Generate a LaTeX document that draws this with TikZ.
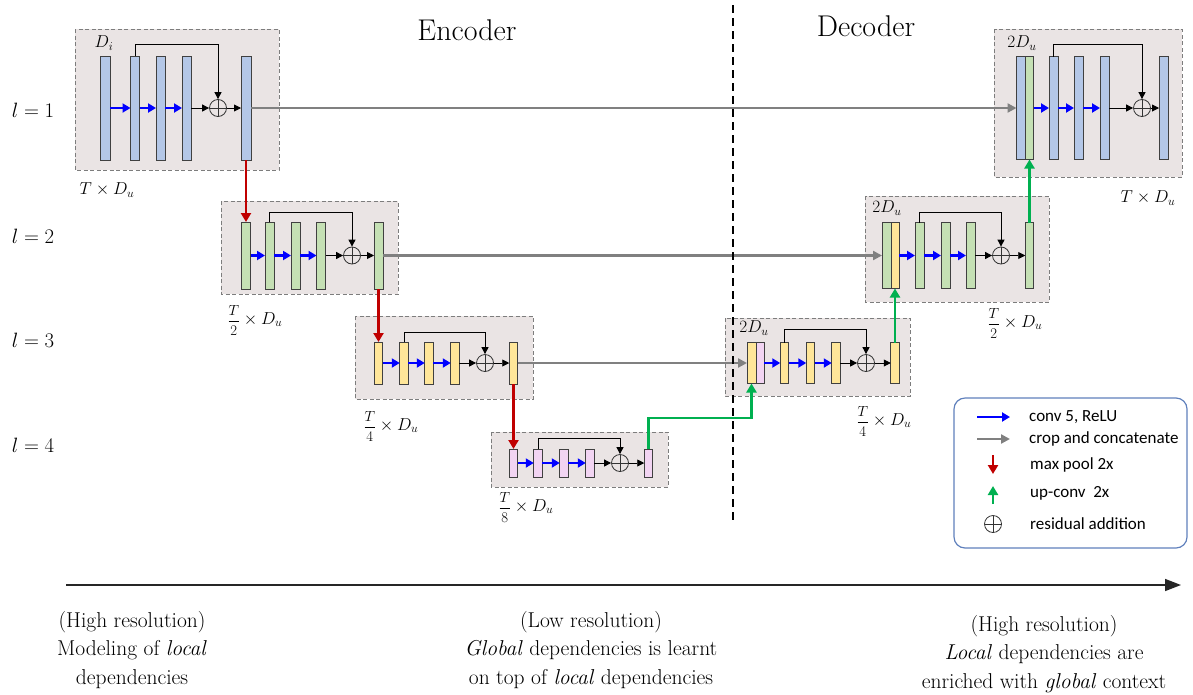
\documentclass[tikz,border=0pt]{standalone}
\usepackage{amsmath}
\usepackage{graphicx}
\usepackage{fontspec}
\newfontfamily\legfont{Carlito}
\usetikzlibrary{arrows.meta,calc}
\newcommand\frT[1]{\vcenter{\hbox{\scalebox{0.85}{$\displaystyle\frac{T}{#1}$}}}}
\definecolor{barblue}{RGB}{180,199,231}
\definecolor{bargreen}{RGB}{197,224,180}
\definecolor{baryellow}{RGB}{255,230,153}
\definecolor{barpink}{RGB}{242,212,242}
\definecolor{boxfill}{RGB}{234,228,228}
\definecolor{boxline}{RGB}{125,125,125}
\definecolor{convblue}{RGB}{0,0,255}
\definecolor{catgray}{RGB}{128,128,128}
\definecolor{poolred}{RGB}{192,0,0}
\definecolor{upgreen}{RGB}{0,176,80}
\definecolor{legline}{RGB}{95,128,188}
\tikzset{
  bar/.style={draw=black!75, line width=1pt, minimum width=9pt, inner sep=0pt, outer sep=0pt},
  blk/.style={draw=boxline, dash pattern=on 4pt off 2.5pt, fill=boxfill, line width=0.9pt},
  conv/.style={draw=convblue, line width=2.6pt, -{Triangle[length=8pt,width=9pt]}},
  res/.style={draw=black, line width=0.9pt, -{Triangle[length=7pt,width=7pt]}},
  cat/.style={draw=catgray, line width=2.4pt, -{Triangle[length=9pt,width=9pt]}},
  pool/.style={draw=poolred, line width=2.6pt, -{Triangle[length=9pt,width=10pt]}},
  upc/.style={draw=upgreen, line width=2.6pt, -{Triangle[length=9pt,width=10pt]}},
  oplusn/.style={circle, draw=black!80, line width=0.8pt, minimum size=17pt, inner sep=0pt,
    path picture={\draw[black!80, line width=0.8pt]
      (path picture bounding box.north) -- (path picture bounding box.south)
      (path picture bounding box.west) -- (path picture bounding box.east);}},
  mlbl/.style={inner sep=0pt, font=\fontsize{17.28}{20}\selectfont},
  lvl/.style={inner sep=0pt, font=\fontsize{20.74}{24}\selectfont},
  ttl/.style={inner sep=0pt, font=\fontsize{30}{36}\selectfont},
  btxt/.style={inner sep=0pt, align=center, anchor=north, font=\fontsize{21.5}{28.5}\selectfont},
  legtxt/.style={inner sep=0pt, anchor=west, font=\legfont\fontsize{17}{20}\selectfont},
  legbox/.style={draw=legline, line width=1.2pt, rounded corners=11pt},
}
\begin{document}
\begin{tikzpicture}[x=1pt,y=-1pt]
\useasboundingbox (0,0) rectangle (1193,694);

% ---------- boxes ----------
\draw[blk] (75,29) rectangle (279,170);
\draw[blk] (221,201) rectangle (398,294);
\draw[blk] (355,316) rectangle (533,399);
\draw[blk] (491,432) rectangle (668,487);
\draw[blk] (725,318) rectangle (910,396);
\draw[blk] (865,196) rectangle (1049,302);
\draw[blk] (994,29) rectangle (1182,177);

% ---------- encoder l=1 ----------
\node[bar,fill=barblue,minimum width=10pt,minimum height=104pt] (e1a) at (105,108) {};
\node[bar,fill=barblue,minimum height=104pt] (e1b) at (135,108) {};
\node[bar,fill=barblue,minimum height=104pt] (e1c) at (160.5,108) {};
\node[bar,fill=barblue,minimum height=104pt] (e1d) at (186.5,108) {};
\node[oplusn] (e1o) at (218,108) {};
\node[bar,fill=barblue,minimum width=10pt,minimum height=104pt] (e1e) at (246,108) {};
\coordinate (e1s) at (0,44);
\draw[conv] (e1a.east) -- (e1b.west);
\draw[conv] (e1b.east) -- (e1c.west);
\draw[conv] (e1c.east) -- (e1d.west);
\draw[res] (e1d.east) -- (e1o.west);
\draw[res] (e1o.east) -- (e1e.west);
\draw[res] (e1b.north) -- (e1b.north |- e1s) -| (e1o.north);

% ---------- encoder l=2 ----------
\node[bar,fill=bargreen,minimum height=67pt] (e2a) at (246,255.5) {};
\node[bar,fill=bargreen,minimum height=67pt] (e2b) at (269.5,255.5) {};
\node[bar,fill=bargreen,minimum height=67pt] (e2c) at (295.5,255.5) {};
\node[bar,fill=bargreen,minimum height=67pt] (e2d) at (321,255.5) {};
\node[oplusn] (e2o) at (352,255.5) {};
\node[bar,fill=bargreen,minimum height=67pt] (e2e) at (378.5,255.5) {};
\coordinate (e2s) at (0,212);
\draw[conv] (e2a.east) -- (e2b.west);
\draw[conv] (e2b.east) -- (e2c.west);
\draw[conv] (e2c.east) -- (e2d.west);
\draw[res] (e2d.east) -- (e2o.west);
\draw[res] (e2o.east) -- (e2e.west);
\draw[res] (e2b.north) -- (e2b.north |- e2s) -| (e2o.north);

% ---------- encoder l=3 ----------
\node[bar,fill=baryellow,minimum width=8.5pt,minimum height=42pt] (e3a) at (378.5,363) {};
\node[bar,fill=baryellow,minimum width=8.5pt,minimum height=42pt] (e3b) at (404,363) {};
\node[bar,fill=baryellow,minimum width=8.5pt,minimum height=42pt] (e3c) at (429,363) {};
\node[bar,fill=baryellow,minimum width=8.5pt,minimum height=42pt] (e3d) at (455,363) {};
\node[oplusn] (e3o) at (485,363) {};
\node[bar,fill=baryellow,minimum width=8.5pt,minimum height=42pt] (e3e) at (513.5,363) {};
\coordinate (e3s) at (0,332);
\draw[conv] (e3a.east) -- (e3b.west);
\draw[conv] (e3b.east) -- (e3c.west);
\draw[conv] (e3c.east) -- (e3d.west);
\draw[res] (e3d.east) -- (e3o.west);
\draw[res] (e3o.east) -- (e3e.west);
\draw[res] (e3b.north) -- (e3b.north |- e3s) -| (e3o.north);

% ---------- encoder l=4 ----------
\node[bar,fill=barpink,minimum width=8.5pt,minimum height=28pt] (e4a) at (513.5,463) {};
\node[bar,fill=barpink,minimum width=8.5pt,minimum height=28pt] (e4b) at (538,463) {};
\node[bar,fill=barpink,minimum width=8.5pt,minimum height=28pt] (e4c) at (564,463) {};
\node[bar,fill=barpink,minimum width=8.5pt,minimum height=28pt] (e4d) at (590,463) {};
\node[oplusn] (e4o) at (620,463) {};
\node[bar,fill=barpink,minimum width=8.5pt,minimum height=28pt] (e4e) at (648.5,463) {};
\coordinate (e4s) at (0,438);
\draw[conv] (e4a.east) -- (e4b.west);
\draw[conv] (e4b.east) -- (e4c.west);
\draw[conv] (e4c.east) -- (e4d.west);
\draw[res] (e4d.east) -- (e4o.west);
\draw[res] (e4o.east) -- (e4e.west);
\draw[res] (e4b.north) -- (e4b.north |- e4s) -| (e4o.north);

% ---------- decoder l=3 ----------
\node[bar,fill=baryellow,minimum height=41pt] (d3a) at (751.5,363) {};
\node[bar,fill=barpink,minimum width=8pt,minimum height=41pt] (d3a2) at (760,363) {};
\node[bar,fill=baryellow,minimum width=8.5pt,minimum height=41pt] (d3b) at (784.5,363) {};
\node[bar,fill=baryellow,minimum width=8.5pt,minimum height=41pt] (d3c) at (810.5,363) {};
\node[bar,fill=baryellow,minimum width=8.5pt,minimum height=41pt] (d3d) at (836,363) {};
\node[oplusn] (d3o) at (866,363) {};
\node[bar,fill=baryellow,minimum width=8.5pt,minimum height=41pt] (d3e) at (895,363) {};
\coordinate (d3s) at (0,329);
\draw[conv] (d3a2.east) -- (d3b.west);
\draw[conv] (d3b.east) -- (d3c.west);
\draw[conv] (d3c.east) -- (d3d.west);
\draw[res] (d3d.east) -- (d3o.west);
\draw[res] (d3o.east) -- (d3e.west);
\draw[res] (d3b.north) -- (d3b.north |- d3s) -| (d3o.north);

% ---------- decoder l=2 ----------
\node[bar,fill=bargreen,minimum height=66pt] (d2a) at (886.5,255.5) {};
\node[bar,fill=baryellow,minimum width=8pt,minimum height=66pt] (d2a2) at (895,255.5) {};
\node[bar,fill=bargreen,minimum height=66pt] (d2b) at (919.5,255.5) {};
\node[bar,fill=bargreen,minimum height=66pt] (d2c) at (945.5,255.5) {};
\node[bar,fill=bargreen,minimum height=66pt] (d2d) at (970.5,255.5) {};
\node[oplusn] (d2o) at (1001,255.5) {};
\node[bar,fill=bargreen,minimum width=8.5pt,minimum height=66pt] (d2e) at (1029.5,255.5) {};
\coordinate (d2s) at (0,212);
\draw[conv] (d2a2.east) -- (d2b.west);
\draw[conv] (d2b.east) -- (d2c.west);
\draw[conv] (d2c.east) -- (d2d.west);
\draw[res] (d2d.east) -- (d2o.west);
\draw[res] (d2o.east) -- (d2e.west);
\draw[res] (d2b.north) -- (d2b.north |- d2s) -| (d2o.north);

% ---------- decoder l=1 ----------
\node[bar,fill=barblue,minimum height=103pt] (d1a) at (1021,108) {};
\node[bar,fill=bargreen,minimum width=8pt,minimum height=103pt] (d1a2) at (1029.5,108) {};
\node[bar,fill=barblue,minimum height=103pt] (d1b) at (1053.5,108) {};
\node[bar,fill=barblue,minimum height=103pt] (d1c) at (1078.5,108) {};
\node[bar,fill=barblue,minimum height=103pt] (d1d) at (1104.5,108) {};
\node[oplusn] (d1o) at (1142,108) {};
\node[bar,fill=barblue,minimum height=103pt] (d1e) at (1163.5,108) {};
\coordinate (d1s) at (0,44);
\draw[conv] (d1a2.east) -- (d1b.west);
\draw[conv] (d1b.east) -- (d1c.west);
\draw[conv] (d1c.east) -- (d1d.west);
\draw[res] (d1d.east) -- (d1o.west);
\draw[res] (d1o.east) -- (d1e.west);
\draw[res] (d1b.north) -- (d1b.north |- d1s) -| (d1o.north);

% ---------- skip (crop & concatenate) ----------
\draw[cat] (e1e.east) -- (d1a.west);
\draw[cat] (e2e.east) -- (d2a.west);
\draw[cat] (e3e.east) -- (d3a.west);

% ---------- max pool ----------
\draw[pool] (e1e.south) -- (e2a.north);
\draw[pool] (e2e.south) -- (e3a.north);
\draw[pool] (e3e.south) -- (e4a.north);

% ---------- up-conv ----------
\coordinate (g4) at (648.5,418);
\draw[upc] (e4e.north) -- (g4) -| (d3a.south);
\draw[upc] (d3e.north) -- (d2a2.south);
\draw[upc] (d2e.north) -- (d1a2.south);

% ---------- labels ----------
\node[mlbl] (lDi) at (104,43) {$D_i$};
\node[mlbl] (lE1) at (107,190) {$T\times D_u$};
\node[mlbl] (lE2) at (255,320) {$\frT{2}\times D_u$};
\node[mlbl] (lE3) at (391,426) {$\frT{4}\times D_u$};
\node[mlbl] (lE4) at (526,507) {$\frT{8}\times D_u$};
\node[mlbl] (lD3) at (884,421) {$\frT{4}\times D_u$};
\node[mlbl] (lD2) at (1015,323) {$\frT{2}\times D_u$};
\node[mlbl] (lD1) at (1148,198) {$T\times D_u$};
\node[mlbl] (l2D3) at (754,328) {$2D_u$};
\node[mlbl] (l2D2) at (887,208) {$2D_u$};
\node[mlbl] (l2D1) at (1022,43) {$2D_u$};

\node[lvl] (lv1) at (33,110) {$l=1$};
\node[lvl] (lv2) at (33,236) {$l=2$};
\node[lvl] (lv3) at (33,340) {$l=3$};
\node[lvl] (lv4) at (33,445) {$l=4$};

\node[ttl] (enc) at (467,30) {Encoder};
\node[ttl] (dec) at (866,26) {Decoder};

\coordinate (vtop) at (733,5);
\coordinate (vbot) at (733,522);
\draw[black, line width=1.8pt, dash pattern=on 8pt off 5pt] (vtop) -- (vbot);

% ---------- legend ----------
\draw[legbox] (954,398) rectangle (1187,548);
\coordinate (lb1) at (977,417); \coordinate (lb2) at (1010,417);
\coordinate (lg1) at (977,439); \coordinate (lg2) at (1010,439);
\coordinate (lr1) at (993,455); \coordinate (lr2) at (993,474);
\coordinate (lu1) at (993,504); \coordinate (lu2) at (993,486);
\draw[conv] (lb1) -- (lb2);
\draw[cat] (lg1) -- (lg2);
\draw[pool] (lr1) -- (lr2);
\draw[upc] (lu1) -- (lu2);
\node[oplusn] (lo) at (993,524) {};
\node[legtxt] (t1) at (1029,417) {conv 5, ReLU};
\node[legtxt] (t2) at (1029,439) {crop and concatenate};
\node[legtxt] (t3) at (1030,465) {max pool 2x};
\node[legtxt] (t4) at (1030,493) {up-conv\ \ 2x};
\node[legtxt] (t5) at (1030,524) {residual addition};

% ---------- bottom axis ----------
\coordinate (ax1) at (66,585);
\coordinate (ax2) at (1181,585);
\draw[black!85, line width=1.5pt, -{Triangle[length=16pt,width=12pt]}] (ax1) -- (ax2);

\node[btxt] (bl) at (132,611) {(High resolution)\\Modeling of \textit{local}\\dependencies};
\node[btxt] (bm) at (591,611) {(Low resolution)\\\textit{Global} dependencies is learnt\\on top of \textit{local} dependencies};
\node[btxt] (br) at (1044,615) {(High resolution)\\\textit{Local} dependencies are\\enriched with \textit{global} context};
\end{tikzpicture}
\end{document}
